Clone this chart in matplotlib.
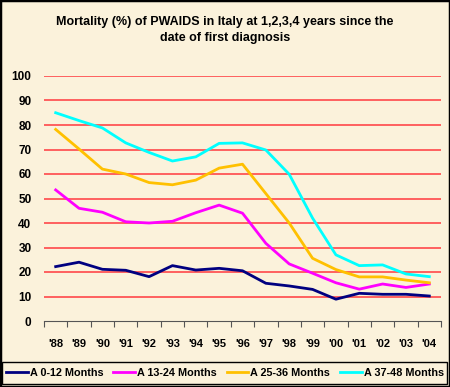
import matplotlib
matplotlib.use("Agg")
import matplotlib.pyplot as plt
from matplotlib.patches import Rectangle

years = ["'88", "'89", "'90", "'91", "'92", "'93", "'94", "'95", "'96",
         "'97", "'98", "'99", "'00", "'01", "'02", "'03", "'04"]
m0_12 = [22.2, 24.0, 21.1, 20.7, 18.1, 22.6, 20.8, 21.5, 20.5,
         15.4, 14.3, 12.9, 8.9, 11.3, 10.9, 10.9, 10.2]
m13_24 = [53.5, 46.0, 44.4, 40.5, 40.0, 40.7, 44.2, 47.3, 44.0,
          31.7, 23.3, 19.5, 15.6, 13.0, 15.1, 13.7, 15.1]
m25_36 = [78.2, 70.2, 62.0, 60.0, 56.5, 55.6, 57.5, 62.4, 64.0,
          52.0, 40.0, 25.6, 21.0, 18.0, 18.0, 16.7, 15.6]
m37_48 = [85.0, 81.8, 78.8, 72.7, 68.8, 65.3, 67.0, 72.5, 72.7,
          69.8, 59.9, 42.0, 27.0, 22.6, 22.9, 19.2, 18.1]
series = [("A 0-12 Months", m0_12, "#000080"),
          ("A 13-24 Months", m13_24, "#FF00FF"),
          ("A 25-36 Months", m25_36, "#FFC000"),
          ("A 37-48 Months", m37_48, "#00FFFF")]

plt.rcParams['font.family'] = ['Liberation Sans', 'DejaVu Sans']
bg = "#FBF2DB"

fig = plt.figure(figsize=(4.5, 3.87), dpi=100, facecolor=bg)
ax = fig.add_axes([44/450, 1-321/387, (441-44)/450, (321-76)/387])
ax.set_facecolor(bg)

x = list(range(len(years)))
for name, vals, col in series:
    ax.plot(x, vals, color=col, lw=2, label=name, zorder=3)

ax.set_ylim(0, 100)
ax.set_xlim(-0.5, len(years) - 0.5)
ax.set_yticks(range(0, 101, 10))
for v in range(10, 101, 10):
    ax.axhline(v, color="#FF5555", lw=1.3, zorder=1)
ax.tick_params(axis="y", length=0, pad=9, labelsize=8.5)
for lab in ax.get_yticklabels():
    lab.set_fontweight("bold")

ax.set_xticks([i - 0.5 for i in range(len(years) + 1)])
ax.set_xticklabels([])
ax.tick_params(axis="x", which="major", length=4, color="#555555")
ax.set_xticks(x, minor=True)
ax.set_xticklabels(years, minor=True, fontsize=8, fontweight="bold")
ax.tick_params(axis="x", which="minor", length=0, pad=13)

for s in ["left", "right", "top"]:
    ax.spines[s].set_visible(False)
ax.spines["bottom"].set_color("#555555")

fig.text(0.5, 1-22/387, "Mortality (%) of PWAIDS in Italy at 1,2,3,4 years since the",
         ha="center", va="center", fontsize=9, fontweight="bold")
fig.text(0.5, 1-38/387, "date of first diagnosis",
         ha="center", va="center", fontsize=9, fontweight="bold")

leg = fig.legend(loc="center", bbox_to_anchor=(0.5, 1-373/387), ncol=4,
                 frameon=False, prop={"weight": "bold", "size": 7.8},
                 handlelength=2.0, handletextpad=0.2, columnspacing=0.9)
fig.add_artist(Rectangle((2/450, 1-384/387), 445/450, 22/387, transform=fig.transFigure,
                         fill=False, edgecolor="black", lw=1))
fig.add_artist(Rectangle((0, 0), 1, 1, transform=fig.transFigure,
                         fill=False, edgecolor="black", lw=2.5))

fig.savefig("out.png", dpi=100, facecolor=bg)
